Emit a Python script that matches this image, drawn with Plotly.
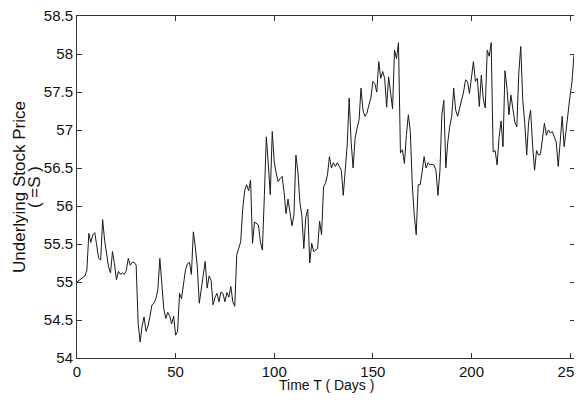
import plotly.graph_objects as go

days = list(range(0, 253))

price = [
    55.00, 55.02, 55.05, 55.06, 55.08, 55.15, 55.64, 55.52, 55.62, 55.65,  # 0-9
    55.45, 55.31, 55.29, 55.82, 55.55, 55.35, 55.20, 55.12, 55.40, 55.24,  # 10-19
    55.03, 55.14, 55.10, 55.12, 55.10, 55.15, 55.31, 55.22, 55.26, 55.26,  # 20-29
    55.22, 54.46, 54.21, 54.42, 54.54, 54.35, 54.42, 54.55, 54.70, 54.72,  # 30-39
    54.78, 54.90, 55.31, 54.98, 54.65, 54.52, 54.60, 54.55, 54.45, 54.55,  # 40-49
    54.30, 54.35, 54.85, 54.78, 54.94, 55.16, 55.24, 55.26, 55.10, 55.66,  # 50-59
    55.46, 55.20, 54.72, 54.90, 55.05, 55.27, 54.92, 55.08, 55.02, 54.70,  # 60-69
    54.80, 54.85, 54.74, 54.87, 54.85, 54.74, 54.86, 54.80, 54.94, 54.74,  # 70-79
    54.68, 55.36, 55.44, 55.53, 55.95, 56.20, 56.28, 56.20, 56.34, 55.51,  # 80-89
    55.79, 55.77, 55.75, 55.53, 55.42, 56.14, 56.91, 56.55, 56.15, 56.98,  # 90-99
    56.58, 56.43, 56.32, 56.36, 56.39, 56.18, 55.90, 56.09, 55.88, 55.74,  # 100-109
    55.88, 56.67, 56.45, 56.05, 55.88, 55.44, 55.85, 55.96, 55.25, 55.51,  # 110-119
    55.40, 55.42, 55.44, 55.80, 55.62, 56.25, 56.30, 56.41, 56.65, 56.50,  # 120-129
    56.57, 56.52, 56.57, 56.52, 56.47, 56.14, 56.46, 56.80, 57.42, 56.84,  # 130-139
    56.50, 56.89, 57.02, 57.13, 57.55, 57.26, 57.18, 57.22, 57.33, 57.42,  # 140-149
    57.64, 57.61, 57.50, 57.90, 57.68, 57.77, 57.68, 57.30, 57.70, 57.50,  # 150-159
    57.28, 58.05, 57.94, 58.15, 56.70, 56.74, 56.56, 56.93, 57.20, 56.98,  # 160-169
    56.28, 55.88, 55.62, 56.28, 56.28, 56.45, 56.65, 56.50, 56.57, 56.54,  # 170-179
    56.55, 56.54, 56.47, 56.14, 56.46, 57.20, 57.39, 56.50, 56.84, 57.05,  # 180-189
    57.18, 57.55, 57.26, 57.18, 57.29, 57.39, 57.50, 57.66, 57.64, 57.48,  # 190-199
    57.66, 57.90, 57.64, 57.68, 57.31, 57.72, 57.41, 57.29, 58.05, 57.97,  # 200-209
    58.15, 56.71, 56.73, 56.54, 56.90, 57.12, 56.78, 57.78, 57.55, 57.20,  # 210-219
    57.46, 57.24, 57.10, 57.04, 57.75, 58.10, 57.40, 57.10, 56.67, 57.11,  # 220-229
    57.26, 56.80, 56.47, 56.73, 56.67, 56.68, 56.89, 57.09, 56.93, 57.00,  # 230-239
    56.96, 56.98, 56.91, 56.84, 56.52, 56.80, 57.18, 56.78, 57.02, 57.30,  # 240-249
    57.45, 57.64, 58.00,                                                    # 250-252
]

x_ticks = [0, 50, 100, 150, 200, 250]
y_ticks = [54, 54.5, 55, 55.5, 56, 56.5, 57, 57.5, 58, 58.5]

x_title = "Time T ( Days )"
y_title_lines = ["Underlying Stock Price", "( =S )"]

FONT = "Liberation Sans, Arial, sans-serif"

# The page body has an 8px default margin; size the figure so the plot
# area lands at x 77..575, y 16..358 in the 582x402 window.
fig = go.Figure()
fig.add_trace(go.Scatter(
    x=days, y=price, mode="lines",
    line=dict(color="#1a1a1a", width=1),
    showlegend=False, hoverinfo="skip",
))

axis_common = dict(
    showline=True, linecolor="#333333", linewidth=1, mirror="ticks",
    ticks="inside", ticklen=5, tickcolor="#333333", showgrid=False,
    zeroline=False, automargin=False, ticklabeloverflow="allow",
    tickfont=dict(family=FONT, size=15, color="#111111"),
)

fig.update_layout(
    width=574, height=394,
    margin=dict(l=69, r=7, t=8, b=44, pad=0),
    paper_bgcolor="white", plot_bgcolor="white",
    font=dict(family=FONT, size=14, color="#111111"),
    xaxis=dict(range=[0, 252.5], tickvals=x_ticks, **axis_common),
    yaxis=dict(range=[54, 58.5], tickvals=y_ticks,
               ticktext=[f"{v:g}" for v in y_ticks],
               **axis_common),
)

fig.add_annotation(
    text=x_title, xref="paper", yref="paper", x=0.5, y=-0.079,
    xanchor="center", yanchor="middle", showarrow=False,
    font=dict(family=FONT, size=14, color="#111111"),
)
fig.add_annotation(
    text=y_title_lines[0], xref="paper", yref="paper", x=-0.1165, y=0.5,
    xanchor="center", yanchor="middle", showarrow=False, textangle=-90,
    font=dict(family=FONT, size=17, color="#111111"),
)
fig.add_annotation(
    text=y_title_lines[1], xref="paper", yref="paper", x=-0.0863, y=0.5,
    xanchor="center", yanchor="middle", showarrow=False, textangle=-90,
    font=dict(family=FONT, size=17, color="#111111"),
)

fig.write_html("out.html")
